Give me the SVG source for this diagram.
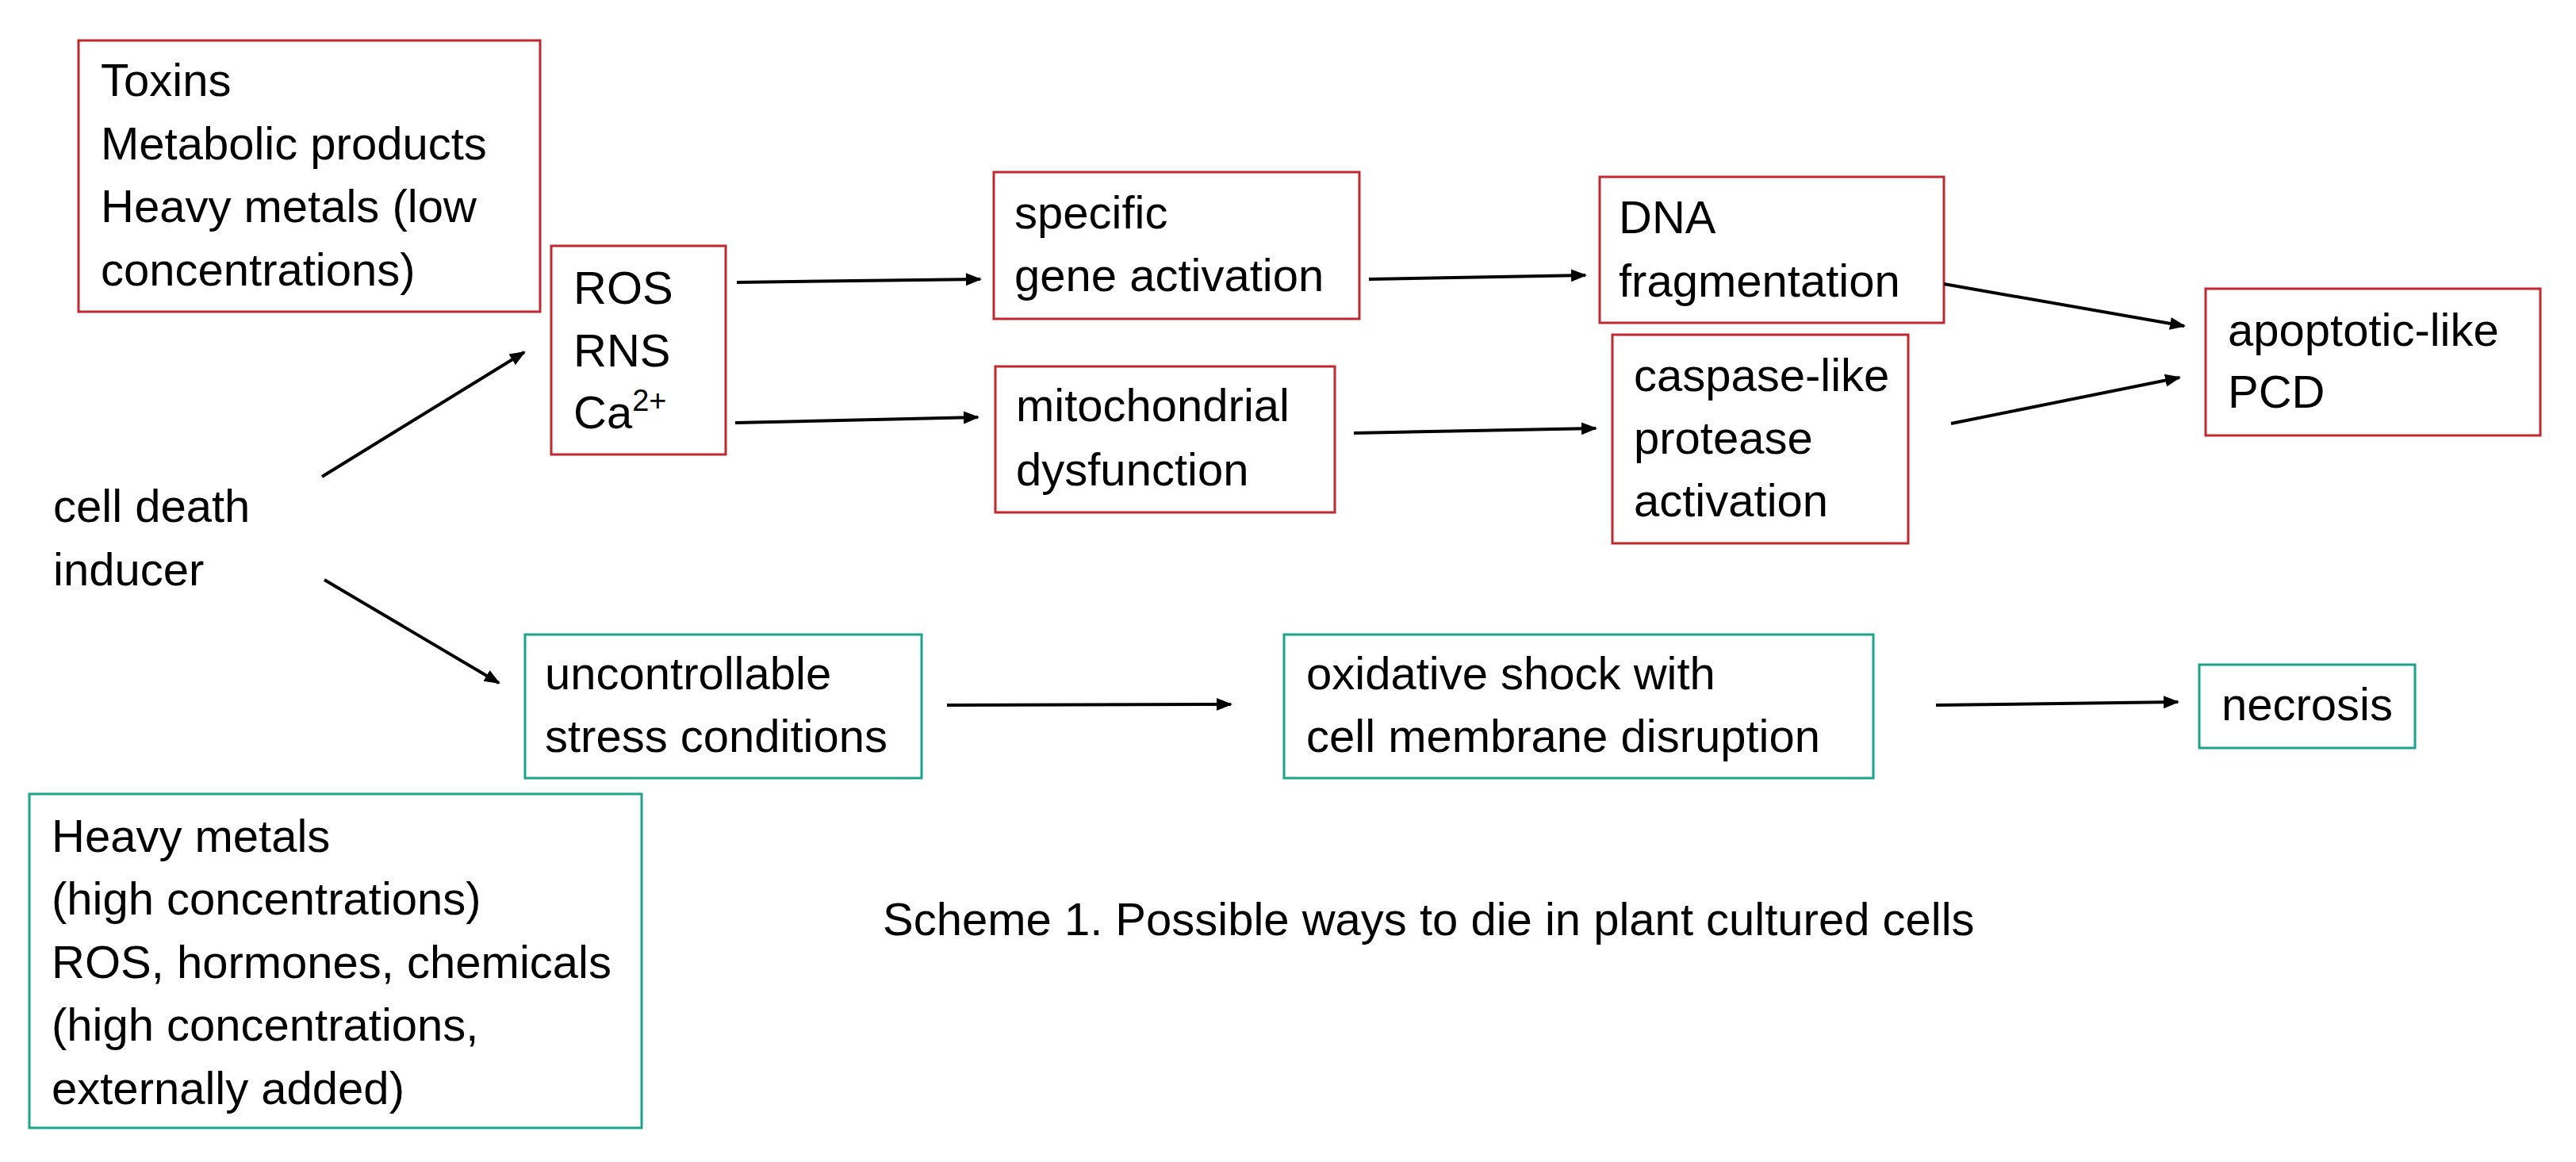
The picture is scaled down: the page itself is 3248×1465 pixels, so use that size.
<svg xmlns="http://www.w3.org/2000/svg" width="3248" height="1465" viewBox="0 0 3248 1465">
<defs>
<style>
text{font-family:"Liberation Sans",Arial,sans-serif;font-size:58px;fill:#000}
.r{fill:#fff;stroke:#c0282f;stroke-width:3}
.g{fill:#fff;stroke:#1aa58a;stroke-width:3}
.c line{stroke:#000;stroke-width:4;marker-end:url(#ah)}
</style>
<marker id="ah" viewBox="0 0 10 10" refX="9" refY="5" markerWidth="5" markerHeight="5" orient="auto" markerUnits="strokeWidth"><path d="M0,1 L10,5 L0,9 z" fill="#000"/></marker>
</defs>
<rect width="3248" height="1465" fill="#fff"/>
<g id="n-toxins"><rect class="r" x="99" y="51" width="582" height="342"/>
<text x="127" y="121">Toxins</text><text x="127" y="201">Metabolic products</text><text x="127" y="280">Heavy metals (low</text><text x="127" y="360">concentrations)</text></g>
<g id="n-ros"><rect class="r" x="695" y="310" width="220" height="263"/>
<text x="723" y="383">ROS</text><text x="723" y="462">RNS</text><text x="723" y="540">Ca<tspan dy="-22" font-size="38">2+</tspan></text></g>
<g id="n-inducer"><text x="67" y="658">cell death</text><text x="67" y="738">inducer</text></g>
<g id="n-specific"><rect class="r" x="1253" y="217" width="461" height="185"/>
<text x="1279" y="288">specific</text><text x="1279" y="367">gene activation</text></g>
<g id="n-mito"><rect class="r" x="1255" y="462" width="428" height="184"/>
<text x="1281" y="531">mitochondrial</text><text x="1281" y="612">dysfunction</text></g>
<g id="n-dna"><rect class="r" x="2017" y="223" width="434" height="184"/>
<text x="2041" y="294">DNA</text><text x="2041" y="374">fragmentation</text></g>
<g id="n-caspase"><rect class="r" x="2033" y="422" width="373" height="263"/>
<text x="2060" y="493">caspase-like</text><text x="2060" y="572">protease</text><text x="2060" y="651">activation</text></g>
<g id="n-apoptotic"><rect class="r" x="2781" y="364" width="422" height="185"/>
<text x="2809" y="436">apoptotic-like</text><text x="2809" y="514">PCD</text></g>
<g id="n-uncontrollable"><rect class="g" x="662" y="800" width="500" height="181"/>
<text x="687" y="869">uncontrollable</text><text x="687" y="948">stress conditions</text></g>
<g id="n-oxidative"><rect class="g" x="1619" y="800" width="743" height="181"/>
<text x="1647" y="869">oxidative shock with</text><text x="1647" y="948">cell membrane disruption</text></g>
<g id="n-necrosis"><rect class="g" x="2773" y="838" width="272" height="105"/>
<text x="2801" y="908">necrosis</text></g>
<g id="n-heavy"><rect class="g" x="37" y="1001" width="772" height="421"/>
<text x="65" y="1074">Heavy metals</text><text x="65" y="1153">(high concentrations)</text><text x="65" y="1233">ROS, hormones, chemicals</text><text x="65" y="1312">(high concentrations,</text><text x="65" y="1392">externally added)</text></g>
<g id="caption"><text x="1113" y="1179">Scheme 1. Possible ways to die in plant cultured cells</text></g>
<g id="connectors" class="c">
<line x1="406" y1="601" x2="661" y2="444"/>
<line x1="409" y1="731" x2="629" y2="861"/>
<line x1="929" y1="356" x2="1236" y2="352"/>
<line x1="927" y1="533" x2="1233" y2="526"/>
<line x1="1194" y1="889" x2="1552" y2="888"/>
<line x1="1726" y1="352" x2="1999" y2="347"/>
<line x1="1707" y1="546" x2="2012" y2="540"/>
<line x1="2451" y1="358" x2="2754" y2="411"/>
<line x1="2460" y1="534" x2="2748" y2="476"/>
<line x1="2441" y1="889" x2="2746" y2="885"/>
</g>
</svg>
